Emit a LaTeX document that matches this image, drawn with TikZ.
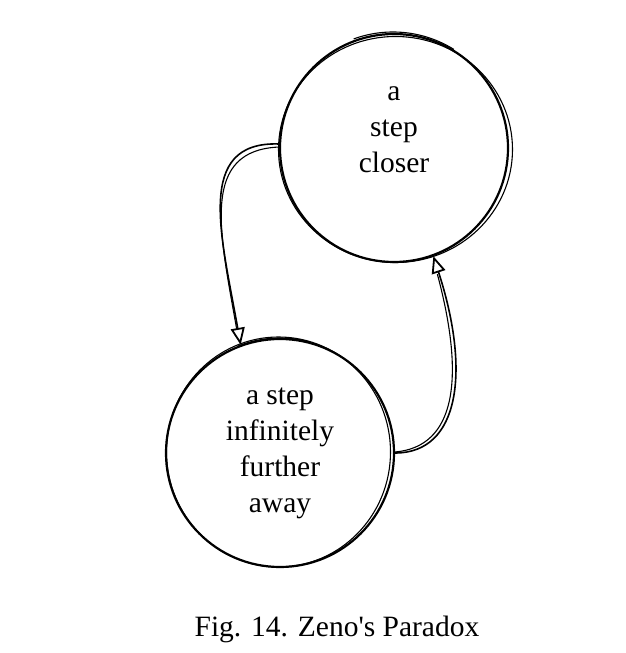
\documentclass[tikz,border=0pt]{standalone}
\usepackage{fontspec}
\setmainfont{Liberation Serif}
\usetikzlibrary{arrows.meta,shapes}
\tikzstyle{zstate}=[circle,draw=black,line width=2.2pt,minimum size=228pt,inner sep=0pt,align=center,font=\fontsize{29.5}{36}\selectfont]
\tikzstyle{sketch}=[draw=black,line width=1.1pt]
\tikzstyle{zarrow}=[-{Triangle[open,length=17pt,width=14pt,line width=1.8pt]}, line width=1.6pt]

\begin{document}
\begin{tikzpicture}[x=1pt,y=1pt]
\useasboundingbox (0,0) rectangle (625,653);
\node[zstate] (C) at (394,505) {a\\step\\closer\\~};
\node[zstate] (F) at (280,200) {a step\\infinitely\\further\\away};
\node[font=\fontsize{29.5}{30}\selectfont] (cap) at (337,24) {Fig. 14. Zeno\textquotesingle s Paradox};
\draw[sketch]([shift={(1.5,-1.5)}]C.center) ellipse [x radius=117, y radius=113];
\draw[sketch]([shift={(-1,1)}]C.center) ++(110:115) arc [start angle=110, end angle=58, radius=115];
\draw[sketch]([shift={(-1.5,1)}]F.center) ellipse [x radius=112, y radius=115];
\draw[sketch]([shift={(0,2)}]F.center) ++(112:113) arc [start angle=112, end angle=75, radius=113];
\draw[zarrow](C.178) .. controls +(178:85) and +(100:110) .. (F.110);
\draw[sketch]([shift={(1,-3)}]C.178) .. controls +(182:80) and +(100:100) .. ([shift={(-4,16)}]F.110);
\draw[zarrow](F.0) .. controls +(0:65) and +(-72:120) .. (C.-70);
\draw[sketch]([shift={(0,1)}]F.0) .. controls +(5:60) and +(-75:110) .. ([shift={(4,-18)}]C.-70);
\end{tikzpicture}
\end{document}
